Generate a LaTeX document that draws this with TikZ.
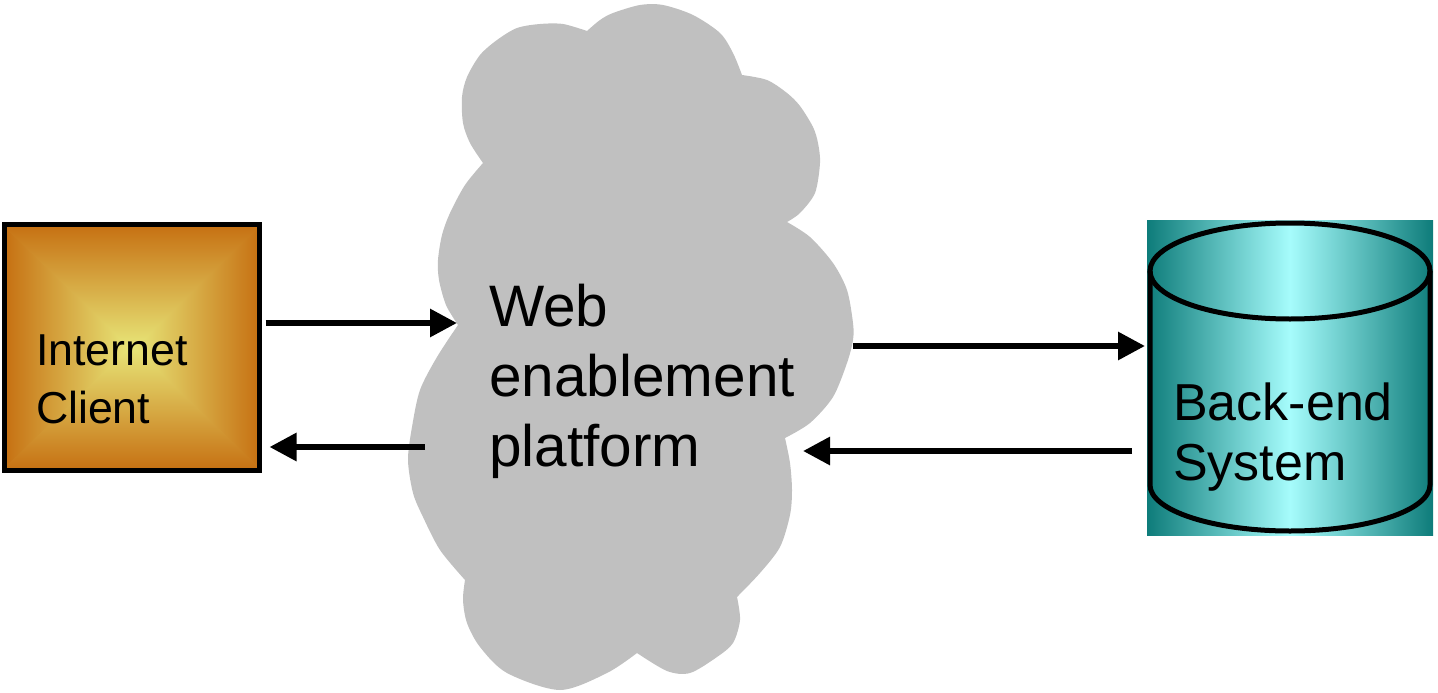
\documentclass[tikz,border=0pt]{standalone}
\usepackage{fontspec}
\setmainfont{Liberation Sans}
\usetikzlibrary{arrows.meta,calc}

\definecolor{clientedge}{RGB}{198,112,18}
\definecolor{clientmid}{RGB}{232,232,122}
\definecolor{dbedge}{RGB}{14,124,122}
\definecolor{dbmid}{RGB}{166,252,252}
\definecolor{cloudgray}{RGB}{192,192,192}

\begin{document}
\begin{tikzpicture}[x=1pt,y=-1pt,
  box/.style={inner sep=0pt, outer sep=0pt},
  label text/.style={inner sep=0pt, anchor=base west, align=left},
  outline/.style={line width=5pt},
  flow/.style={line width=6pt, -{Triangle[length=27pt,width=27pt]}},
]
\useasboundingbox (0,0) rectangle (1438,693);

% ---- cloud: one lobe per smooth segment, joined at the notches
\fill[cloudgray]
  plot[smooth] coordinates {(458,325) (446,305) (439,280) (438,260) (442,235) (450,213) (465,185) (483,163)}
  -- plot[smooth] coordinates {(483,163) (470,143) (463,123) (462,97) (467,77) (480,55) (497,40) (517,28) (540,24) (563,24) (587,31)}
  -- plot[smooth] coordinates {(587,31) (600,20) (613,13) (640,5) (663,5) (693,15) (720,33) (733,53) (742,75)}
  -- plot[smooth] coordinates {(742,75) (767,80) (787,93) (800,106) (813,127) (818,143) (820,163) (815,193) (800,213) (787,222)}
  -- plot[smooth] coordinates {(787,222) (810,237) (833,263) (847,290) (853,323) (853,340) (847,363) (833,397) (810,423) (785,438)}
  -- plot[smooth] coordinates {(785,438) (790,463) (792,490) (790,515) (780,547) (760,573) (737,597)}
  -- plot[smooth] coordinates {(737,597) (740,620) (733,643) (717,657) (690,673) (667,671) (637,653)}
  -- plot[smooth] coordinates {(637,653) (607,673) (560,690) (507,673) (480,647) (467,623) (463,600) (465,580)}
  -- plot[smooth] coordinates {(465,580) (440,550) (423,517) (413,493) (408,460) (412,427) (420,390) (437,357) (458,325)}
  -- cycle;

% connector ends on the cloud rim
\coordinate (cloudin)  at (457,323);
\coordinate (cloudout) at (425,447);
\coordinate (cloudtx)  at (853,346);
\coordinate (cloudrx)  at (803,451);

% multi-line labels are placed by the baseline of their last line
\node[label text, font=\fontsize{58.5}{70}\selectfont] (cloudlabel) at (489,466)
  {Web\\enablement\\platform};

% ---- client box with a square (pyramid) gradient
\node[box, minimum width=255pt, minimum height=246pt] (client) at (132,347.5) {};
\begin{scope}
  \clip (client.north west) rectangle (client.south east);
  \shade[left color=clientedge, right color=clientmid]
    (client.north west) -- (client.south west) -- (client.center) -- cycle;
  \shade[right color=clientedge, left color=clientmid]
    (client.north east) -- (client.south east) -- (client.center) -- cycle;
  \shade[top color=clientedge, bottom color=clientmid]
    ($(client.north west)+(-3,0)$) -- ($(client.north east)+(3,0)$)
    -- ($(client.center)+(0,3)$) -- cycle;
  \shade[bottom color=clientedge, top color=clientmid]
    ($(client.south west)+(-3,0)$) -- ($(client.south east)+(3,0)$)
    -- ($(client.center)+(0,-3)$) -- cycle;
\end{scope}
\draw[outline] (client.north west) rectangle (client.south east);
\node[label text, font=\fontsize{44.7}{58}\selectfont] (clientlabel) at (35.8,423)
  {Internet\\Client};

% ---- back-end cylinder on a horizontally shaded panel
\node[box, minimum width=286pt, minimum height=315pt] (backend) at (1290,377.5) {};
\shade[left color=dbedge, right color=dbedge, middle color=dbmid]
  (backend.north west) rectangle (backend.south east);
\draw[outline] (1290,271) ellipse [x radius=140, y radius=48];
\draw[outline] (1150,271) -- (1150,485)
  arc[start angle=180, end angle=0, x radius=140, y radius=46] -- (1430,271);
\node[label text, font=\fontsize{52}{60}\selectfont] (backendlabel) at (1173,480)
  {Back-end\\System};

% ---- connectors
\draw[flow] ($(client.east |- cloudin)+(6,0)$) -- (cloudin);
\draw[flow] (cloudout) -- ($(client.east |- cloudout)+(10,0)$);
\draw[flow] (cloudtx) -- ($(backend.west |- cloudtx)+(-2,0)$);
\draw[flow] ($(backend.west |- cloudrx)+(-15,0)$) -- (cloudrx);
\end{tikzpicture}
\end{document}
